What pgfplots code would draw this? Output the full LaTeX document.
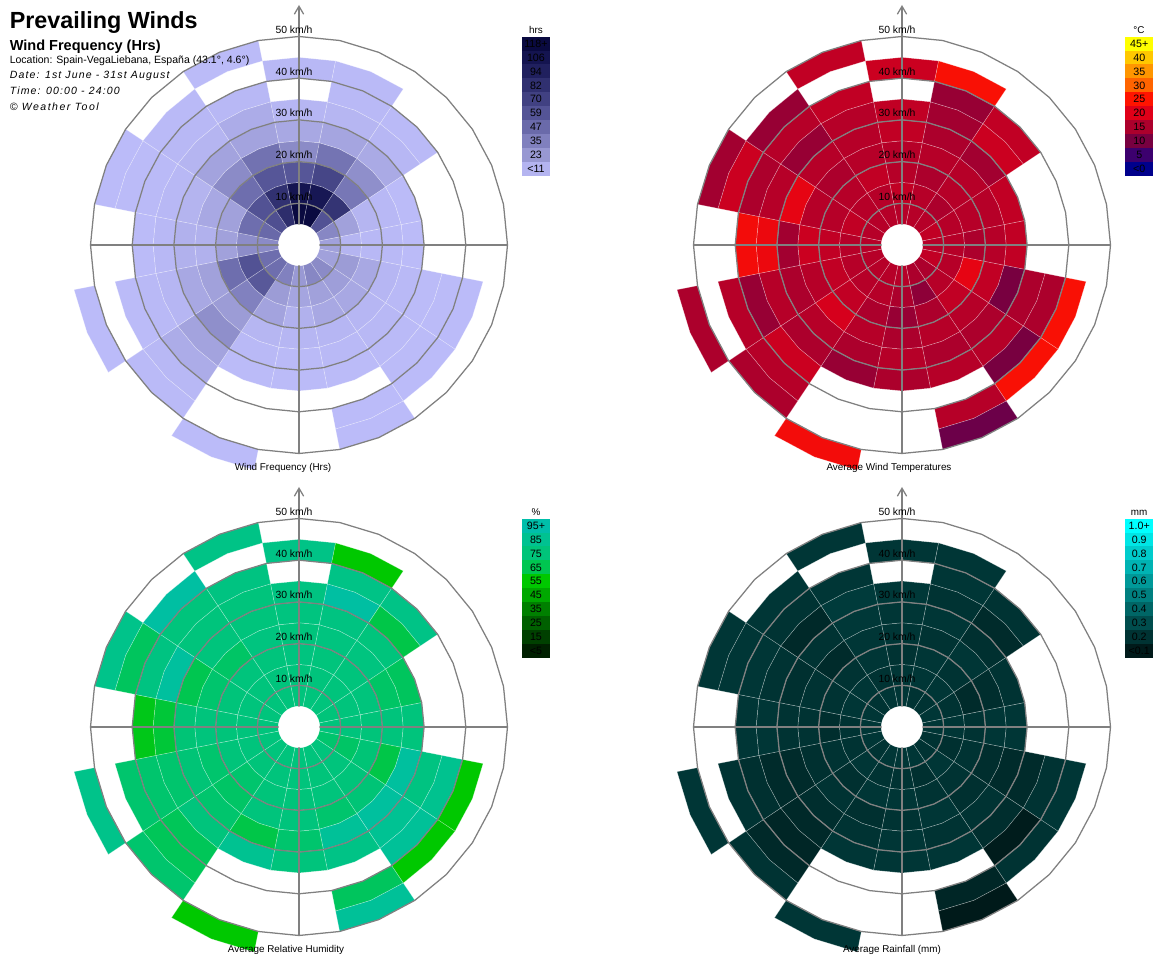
\documentclass[border=0pt]{standalone}
\usepackage{fontspec}
\setmainfont{Liberation Sans}
\usepackage{pgfplots}
\pgfplotsset{compat=1.18}
\usetikzlibrary{arrows.meta}
\definecolor{gridgray}{RGB}{128,128,128}
\tikzset{
  kml/.style={font=\fontsize{7.8}{9}\selectfont, anchor=base, inner sep=0pt},
  cbl/.style={font=\fontsize{8}{9}\selectfont, anchor=center, inner sep=0pt},
  captxt/.style={font=\fontsize{7.4}{9}\selectfont, anchor=base, inner sep=0pt},
}

% ---------- palettes (anchor colours, first value, step, last index)
\def\FqR{{190,180,152,128,106,84,65,48,32,20,10}}
\def\FqG{{190,180,152,128,106,84,65,48,32,20,10}}
\def\FqB{{252,240,210,190,170,150,130,112,94,80,64}}
\def\FqV{0}\def\FqS{11.8}\def\FqN{10}

\def\TpR{{0,60,120,172,224,255,255,255,255,255}}
\def\TpG{{0,0,0,0,0,20,100,150,200,255}}
\def\TpB{{140,110,64,44,24,0,0,0,0,0}}
\def\TpV{0}\def\TpS{5}\def\TpN{9}

\def\HuR{{0,0,0,0,0,0,0,0,0,0}}
\def\HuG{{32,64,96,128,168,200,198,196,194,190}}
\def\HuB{{0,0,0,0,0,0,80,122,145,170}}
\def\HuV{5}\def\HuS{10}\def\HuN{9}

\def\RnR{{0,0,0,0,0,0,0,0,0,0}}
\def\RnG{{26,51,77,102,128,153,179,204,230,255}}
\def\RnB{{26,51,77,102,128,153,179,204,230,255}}
\def\RnV{0.1}\def\RnS{0.1}\def\RnN{9}

% ---------- data: 16 directions (N, NNE, ..., NNW) x 10 speed bins (5-10 ... 50-55 km/h); -1 = no data
\def\FQ{%
{125,105,58,30,17,9,-1,7,-1,-1},%
{120,103,68,42,18,10,6,5,-1,-1},%
{60,80,40,28,16,8,5,-1,-1,-1},%
{32,20,11,7,4,-1,-1,-1,-1,-1},%
{20,11,7,6,4,-1,-1,-1,-1,-1},%
{20,22,17,9,6,4,4,3,-1,-1},%
{30,21,17,9,7,5,4,3,-1,-1},%
{32,20,17,9,6,4,-1,3,3,-1},%
{23,18,13,9,5,4,-1,-1,-1,-1},%
{35,22,19,10,6,4,-1,-1,-1,3},%
{45,57,35,22,28,19,15,7,5,-1},%
{45,60,45,20,17,9,6,4,-1,3},%
{30,29,20,13,13,7,4,-1,-1,-1},%
{48,45,20,17,12,7,5,4,3,-1},%
{62,60,45,30,19,11,7,5,-1,-1},%
{85,82,58,43,19,15,7,-1,4,-1}}

\def\TP{%
{16,17,16,16,17,17,-1,18,-1,-1},%
{16,16,15,16,15,14,13,24,-1,-1},%
{16,15,16,16,14,18,17,-1,-1,-1},%
{17,16,16,16,17,-1,-1,-1,-1,-1},%
{16,16,15,16,17,-1,-1,-1,-1,-1},%
{17,16,21,17,10,15,15,24,-1,-1},%
{15,16,17,16,15,16,10,24,-1,-1},%
{15,12,15,16,15,16,-1,16,9,-1},%
{16,15,13,15,16,15,-1,-1,-1,-1},%
{16,16,15,16,15,13,-1,-1,-1,23},%
{16,16,17,19,16,15,18,16,15,-1},%
{16,16,17,16,15,16,13,16,-1,15},%
{16,16,17,18,14,22,23,-1,-1,-1},%
{16,17,16,16,21,16,15,18,14,-1},%
{16,16,16,15,16,13,16,13,-1,-1},%
{16,16,17,16,16,16,17,-1,17,-1}}

\def\HU{%
{76,76,77,76,77,78,-1,80,-1,-1},%
{76,76,76,77,78,92,80,55,-1,-1},%
{76,76,76,77,76,64,80,-1,-1,-1},%
{75,76,76,70,68,-1,-1,-1,-1,-1},%
{76,76,75,76,76,-1,-1,-1,-1,-1},%
{72,70,74,64,90,78,84,55,-1,-1},%
{76,76,75,74,90,86,88,55,-1,-1},%
{76,75,76,72,88,80,-1,68,88,-1},%
{76,76,75,76,72,76,-1,-1,-1,-1},%
{76,76,75,76,64,85,-1,-1,-1,55},%
{76,75,72,70,72,76,67,67,72,-1},%
{76,76,75,72,74,72,72,72,-1,82},%
{76,76,75,76,74,62,58,-1,-1,-1},%
{76,76,75,72,65,90,78,68,82,-1},%
{76,76,76,70,76,76,76,92,-1,-1},%
{76,76,76,77,76,76,78,-1,80,-1}}

\def\RN{%
{0.21,0.21,0.2,0.21,0.21,0.22,-1,0.21,-1,-1},%
{0.2,0.21,0.21,0.2,0.21,0.2,0.21,0.21,-1,-1},%
{0.2,0.21,0.2,0.21,0.19,0.17,0.2,-1,-1,-1},%
{0.21,0.2,0.17,0.18,0.2,-1,-1,-1,-1,-1},%
{0.21,0.21,0.2,0.21,0.21,-1,-1,-1,-1,-1},%
{0.2,0.19,0.2,0.18,0.17,0.17,0.2,0.21,-1,-1},%
{0.2,0.21,0.2,0.19,0.2,0.18,0.11,0.2,-1,-1},%
{0.21,0.19,0.2,0.21,0.2,0.21,-1,0.15,0.1,-1},%
{0.21,0.2,0.21,0.2,0.21,0.21,-1,-1,-1,-1},%
{0.21,0.2,0.21,0.19,0.2,0.21,-1,-1,-1,0.21},%
{0.2,0.21,0.19,0.2,0.18,0.16,0.15,0.16,0.2,-1},%
{0.21,0.2,0.2,0.19,0.17,0.17,0.19,0.2,-1,0.21},%
{0.21,0.2,0.18,0.2,0.2,0.21,0.21,-1,-1,-1},%
{0.21,0.21,0.2,0.2,0.19,0.2,0.21,0.21,0.21,-1},%
{0.2,0.21,0.2,0.17,0.2,0.16,0.2,0.21,-1,-1},%
{0.21,0.2,0.21,0.21,0.22,0.23,0.21,-1,0.21,-1}}

% ---------- helpers
\newcommand\getcolor[2]{%
  \edef\pV{\csname #2V\endcsname}\edef\pS{\csname #2S\endcsname}\edef\pN{\csname #2N\endcsname}%
  \expandafter\let\expandafter\pR\csname #2R\endcsname
  \expandafter\let\expandafter\pG\csname #2G\endcsname
  \expandafter\let\expandafter\pB\csname #2B\endcsname
  \pgfmathsetmacro\cT{max(0,min(\pN-0.0001,(#1-\pV)/\pS))}%
  \pgfmathtruncatemacro\cI{floor(\cT)}%
  \pgfmathtruncatemacro\cJ{\cI+1}%
  \pgfmathsetmacro\cF{\cT-\cI}%
  \pgfmathtruncatemacro\cR{round(\pR[\cI]*(1-\cF)+\pR[\cJ]*\cF)}%
  \pgfmathtruncatemacro\cG{round(\pG[\cI]*(1-\cF)+\pG[\cJ]*\cF)}%
  \pgfmathtruncatemacro\cB{round(\pB[\cI]*(1-\cF)+\pB[\cJ]*\cF)}%
}

\newcommand\drawcells[4]{%
  \foreach \row [count=\dd from 0] in #3 {%
    \foreach \val [count=\bb from 0] in \row {%
      \ifdim \val pt > -0.5pt\relax
        \getcolor{\val}{#4}%
        \pgfmathsetmacro\aA{90-22.5*\dd+11.25}%
        \pgfmathsetmacro\aB{90-22.5*\dd}%
        \pgfmathsetmacro\aC{90-22.5*\dd-11.25}%
        \pgfmathsetmacro\rA{4.17*(5+5*\bb)}%
        \pgfmathsetmacro\rB{4.17*(10+5*\bb)}%
        \pgfmathsetmacro\xa{#1+\rA*cos(\aA)}\pgfmathsetmacro\ya{#2+\rA*sin(\aA)}%
        \pgfmathsetmacro\xb{#1+\rA*cos(\aB)}\pgfmathsetmacro\yb{#2+\rA*sin(\aB)}%
        \pgfmathsetmacro\xc{#1+\rA*cos(\aC)}\pgfmathsetmacro\yc{#2+\rA*sin(\aC)}%
        \pgfmathsetmacro\xd{#1+\rB*cos(\aC)}\pgfmathsetmacro\yd{#2+\rB*sin(\aC)}%
        \pgfmathsetmacro\xe{#1+\rB*cos(\aB)}\pgfmathsetmacro\ye{#2+\rB*sin(\aB)}%
        \pgfmathsetmacro\xf{#1+\rB*cos(\aA)}\pgfmathsetmacro\yf{#2+\rB*sin(\aA)}%
        \edef\tmp{\noexpand\addplot[draw=white, draw opacity=0.4, line width=0.35pt, fill={rgb,255:red,\cR;green,\cG;blue,\cB}] coordinates {(\xa,\ya) (\xb,\yb) (\xc,\yc) (\xd,\yd) (\xe,\ye) (\xf,\yf)} -- cycle;}%
        \tmp
      \fi
    }%
  }%
}

\newcommand\drawgrid[2]{%
  \foreach \s in {10,20,30,40,50} {%
    \gdef\pts{}%
    \foreach \j in {0,...,32} {%
      \pgfmathsetmacro\px{#1+4.17*\s*cos(11.25*\j)}%
      \pgfmathsetmacro\py{#2+4.17*\s*sin(11.25*\j)}%
      \xdef\pts{\pts (\px,\py)}%
    }%
    \edef\tmp{\noexpand\addplot[draw=gridgray, line width=0.95pt] coordinates {\pts};}\tmp
  }%
  \pgfmathsetmacro\xl{#1-208.5}\pgfmathsetmacro\xr{#1+208.5}%
  \pgfmathsetmacro\yl{#2-208.5}\pgfmathsetmacro\yt{#2+240}%
  \edef\tmp{\noexpand\addplot[draw=gridgray, line width=0.95pt] coordinates {(\xl,#2) (\xr,#2)};}\tmp
  \edef\tmp{\noexpand\addplot[draw=gridgray, line width=0.95pt, -{Straight Barb[length=6pt,width=7pt]}] coordinates {(#1,\yl) (#1,\yt)};}\tmp
  \gdef\pts{}%
  \foreach \j in {0,...,31} {%
    \pgfmathsetmacro\px{#1+20.5*cos(11.25*\j)}%
    \pgfmathsetmacro\py{#2+20.5*sin(11.25*\j)}%
    \xdef\pts{\pts (\px,\py)}%
  }%
  \edef\tmp{\noexpand\addplot[draw=none, fill=white] coordinates {\pts} -- cycle;}\tmp
  \foreach \s in {10,20,30,40,50} {%
    \pgfmathsetmacro\lx{#1-5}\pgfmathsetmacro\ly{#2+4.17*\s+3}%
    \edef\tmp{\noexpand\node[kml] at (\lx,\ly) {\s\space km/h};}\tmp
  }%
}

\newcommand\cbar[5]{%
  \edef\qS{\csname #3S\endcsname}%
  \foreach \lab [count=\j from 0] in {#5} {%
    \pgfmathsetmacro\vv{#4+\qS*\j}%
    \getcolor{\vv}{#3}%
    \pgfmathsetmacro\ya{#2+13.9*\j}%
    \pgfmathsetmacro\yb{#2+13.9*\j+13.9}%
    \pgfmathsetmacro\xb{#1+28.5}%
    \pgfmathsetmacro\xm{#1+14.25}%
    \pgfmathsetmacro\ym{#2+13.9*\j+6.95}%
    \edef\tmp{\noexpand\addplot[draw=none, fill={rgb,255:red,\cR;green,\cG;blue,\cB}] coordinates {(#1,\ya) (\xb,\ya) (\xb,\yb) (#1,\yb)} -- cycle;}\tmp
    \edef\tmp{\noexpand\node[cbl] at (\xm,\ym) {\lab};}\tmp
  }%
}

\begin{document}
\begin{tikzpicture}
\path[use as bounding box] (0,0) rectangle (864.75pt,717pt);
\begin{axis}[at={(0pt,0pt)}, anchor=south west, x=0.75pt, y=0.75pt,
  xmin=0, xmax=1153, ymin=0, ymax=956, hide axis, clip=false]

\drawcells{299}{711}{\FQ}{Fq}
\drawcells{902}{711}{\TP}{Tp}
\drawcells{299}{229}{\HU}{Hu}
\drawcells{902}{229}{\RN}{Rn}

\drawgrid{299}{711}
\drawgrid{902}{711}
\drawgrid{299}{229}
\drawgrid{902}{229}

\cbar{521.7}{780.3}{Fq}{11.8}{<11,23,35,47,59,70,82,94,106,118+}
\cbar{1125}{780.3}{Tp}{0}{<0,5,10,15,20,25,30,35,40,45+}
\cbar{521.7}{298.3}{Hu}{5}{<5,15,25,35,45,55,65,75,85,95+}
\cbar{1125}{298.3}{Rn}{0.1}{<0.1,0.2,0.3,0.4,0.5,0.6,0.7,0.8,0.9,1.0+}

\node[captxt] at (536,922.7) {hrs};
\node[captxt] at (1139,922.7) {°C};
\node[captxt] at (536,440.7) {\%};
\node[captxt] at (1139,440.7) {mm};

\node[captxt] at (283,485) {Wind Frequency (Hrs)};
\node[captxt] at (889,485) {Average Wind Temperatures};
\node[captxt] at (286,3) {Average Relative Humidity};
\node[captxt] at (892,3) {Average Rainfall (mm)};

\node[anchor=base west, inner sep=0pt, font=\fontsize{17.5}{20}\selectfont\bfseries] at (9.5,927) {Prevailing Winds};
\node[anchor=base west, inner sep=0pt, font=\fontsize{10.9}{13}\selectfont\bfseries] at (9.5,905.5) {Wind Frequency (Hrs)};
\node[anchor=base west, inner sep=0pt, font=\fontsize{7.9}{9}\selectfont] at (9.5,892) {Location: Spain-VegaLiebana, España (43.1°, 4.6°)};
\node[anchor=base west, inner sep=0pt, font=\fontsize{7.9}{9}\selectfont\itshape\addfontfeatures{LetterSpace=11}] at (9.5,877) {Date: 1st June - 31st August};
\node[anchor=base west, inner sep=0pt, font=\fontsize{7.9}{9}\selectfont\itshape\addfontfeatures{LetterSpace=11}] at (9.5,861.7) {Time: 00:00 - 24:00};
\node[anchor=base west, inner sep=0pt, font=\fontsize{7.9}{9}\selectfont\itshape\addfontfeatures{LetterSpace=14}] at (9.5,845.3) {© Weather Tool};

\end{axis}
\end{tikzpicture}
\end{document}
